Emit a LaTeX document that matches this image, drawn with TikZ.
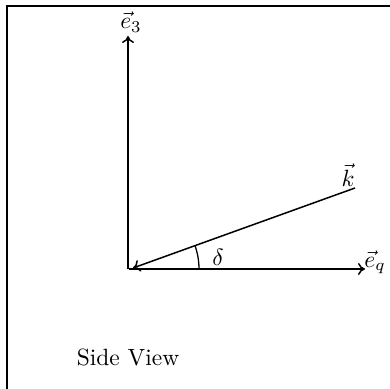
\documentclass[tikz,border=0pt]{standalone}
\usetikzlibrary{arrows.meta}
\begin{document}
\begin{tikzpicture}[x=1pt,y=1pt,
  axis/.style={line width=1.5pt,-{To[length=7pt,width=12pt]}},
  lbl/.style={scale=2.35, transform shape, inner sep=0pt}]
\useasboundingbox (0,0) rectangle (390,388);
\clip (0,0) rectangle (390,388);
\draw[line width=2pt] (7,-20) -- (7,382) -- (410,382);
\coordinate (O) at (129,119);
\coordinate (E3) at (128,352);
\coordinate (EQ) at (365,119);
\coordinate (K) at (355,200);
\draw[axis] (128,119) -- (E3);
\draw[axis] (O) -- (EQ);
\draw[axis] (K) -- (133,120);
\draw[line width=1.3pt] (199,119) arc[start angle=0, end angle=19.6, radius=70];
\node[lbl] (e3) at (131,366) {$\vec{e}_3$};
\node[lbl] (eq) at (375,126) {$\vec{e}_q$};
\node[lbl] (k) at (348,213) {$\vec{k}$};
\node[lbl] (d) at (218,131) {$\delta$};
\node[lbl] (sv) at (128,31) {Side View};
\end{tikzpicture}
\end{document}
